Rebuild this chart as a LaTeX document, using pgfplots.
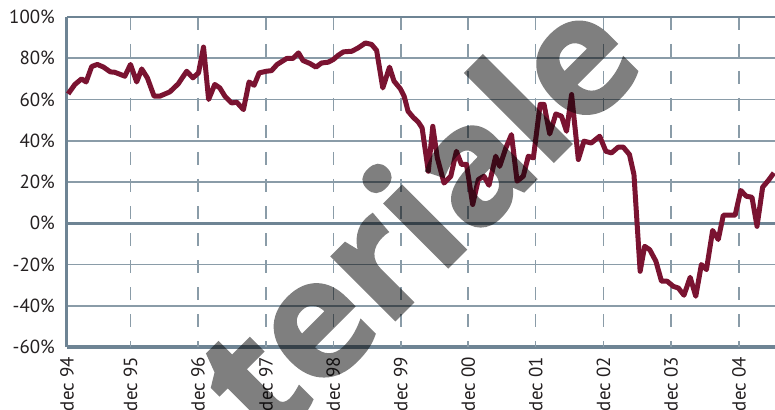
\documentclass[border=0pt]{standalone}
\usepackage{fontspec}
\setmainfont{PT Sans}
\newfontfamily\wmfont{Open Sans}[BoldFeatures={FakeBold=1.5}]
\usepackage{pgfplots}
\pgfplotsset{compat=1.18}
\definecolor{gridc}{HTML}{8A9CA8}
\definecolor{axc}{HTML}{6E8494}
\definecolor{linec}{HTML}{7A1331}
\definecolor{txt}{HTML}{231F20}
\pgfplotstableread{
m v
0.2 62.7
1.4 67.3
2.6 70
3.4 68.5
4.4 76
5.4 77
6.5 75.7
7.7 73.4
8.5 73.2
10.3 71.3
11.3 77
12.4 68.5
13.3 74.8
14.3 70.5
15.5 61.6
16.5 61.6
18.3 63.7
19.8 67.6
21.3 73.7
22.4 70.5
23.4 72.9
24.3 85.4
25.2 60
26.3 67.3
27.2 65.6
28.1 61.6
29.3 58.3
30.2 58.7
31.4 55.1
32.4 68.5
33.3 66.9
34.2 72.9
35.5 73.7
36.4 74
37.4 77
39.1 79.9
40.2 79.9
41.2 82.6
42 78.9
43.2 77.5
44.3 75.7
45.3 77.7
46.5 78.1
47.4 79.4
48.3 81.5
49.2 83.1
50.7 83.4
51.8 85
53.1 87.4
54.2 86.7
55.1 83.8
56.2 65.6
57.4 75.7
58.2 68.9
59.3 65.3
60 61.6
60.7 54.3
61.6 51.4
62.5 49.1
63.2 46.2
64.3 25.2
65.1 47
65.9 31.7
67.1 19.5
68.3 22.8
69.3 34.9
70.2 28.5
71.1 28.5
72.2 9.1
73.2 21.2
74.2 22.8
75.1 18.4
76.3 32.5
77 27.6
78.1 36.5
79.1 43
80.1 20.4
81.2 22.8
82.1 32.5
83 31.7
84.2 57.6
84.9 57.6
85.9 43.3
87 53
88 51.9
88.9 44.6
89.8 62.4
91 30.9
92 39.8
93.3 38.9
94.8 42.2
95.9 34.9
96.9 34.1
98.1 36.9
99 36.9
100.1 33.3
100.9 23.6
102 -23.3
102.8 -11.2
103.7 -12.8
104.8 -18.4
105.8 -28.1
106.8 -28.1
107.9 -30.6
108.8 -31.4
109.8 -34.9
110.9 -26.2
111.9 -35.4
112.9 -20
113.8 -22.5
114.9 -3.5
115.9 -7.9
116.8 3.9
117.8 3.9
118.9 3.9
119.9 15.9
120.9 13.1
121.9 12.6
122.8 -1.5
123.8 17.5
124.8 20.7
125.8 24.4
}\datatable
\begin{document}
\begin{tikzpicture}
\begin{axis}[
  scale only axis, width=708bp, height=330bp,
  xmin=0, xmax=126, ymin=-60, ymax=100,
  axis x line*=bottom, axis y line*=left,
  x axis line style={axc, line width=3bp, -},
  y axis line style={axc, line width=3bp, -},
  xtick={0,11.3,23.3,35.4,47.4,59.4,71.4,83.4,95.5,107.5,119.6},
  xticklabels={dec 94,dec 95,dec 96,dec 97,dec 98,dec 99,dec 00,dec 01,dec 02,dec 03,dec 04},
  ytick={-60,-40,-20,0,20,40,60,80,100},
  yticklabels={-60\%,-40\%,-20\%,0\%,20\%,40\%,60\%,80\%,100\%},
  major tick length=0pt,
  tick style={draw=none},
  xticklabel style={rotate=90, anchor=east, inner sep=0pt, font=\fontsize{19}{19}\selectfont, text=txt},
  yticklabel style={anchor=east, inner sep=0pt, font=\fontsize{19}{19}\selectfont, text=txt},
  xticklabel shift=10bp,
  yticklabel shift=12bp,
  ymajorgrids,
  major grid style={gridc, line width=1.6bp},
  clip=false,
]
\pgfplotsinvokeforeach{11.3,23.3,35.4,47.4,59.4,71.4,83.4,95.5,107.5,119.6}{
  \draw[gridc, line width=1.6bp, dash pattern=on 13bp off 14bp] (axis cs:#1,100) -- (axis cs:#1,-60);
}
\draw[axc, line width=2.6bp] (axis cs:0,0) -- (axis cs:126,0);
\draw[axc, line width=2.6bp] (axis cs:0,100) -- (axis cs:126,100);
\addplot[linec, line width=5bp, line join=round, mark=none] table[x=m, y=v] {\datatable};
\coordinate (wm) at (axis cs:69.6,-16.4);
\coordinate (bl) at (rel axis cs:0,0);
\coordinate (tr) at (rel axis cs:1,1);
\end{axis}
\begin{scope}[transparency group, opacity=0.5]
\node[rotate=45, anchor=base, text=black, inner sep=0pt,
      font=\wmfont\bfseries\fontsize{165}{165}\selectfont] at (wm) {\color{black}teriale};
\end{scope}
\pgfresetboundingbox
\path[use as bounding box] ([shift={(-67bp,-63bp)}]bl) rectangle ([shift={(0bp,17bp)}]tr);
\end{tikzpicture}
\end{document}
